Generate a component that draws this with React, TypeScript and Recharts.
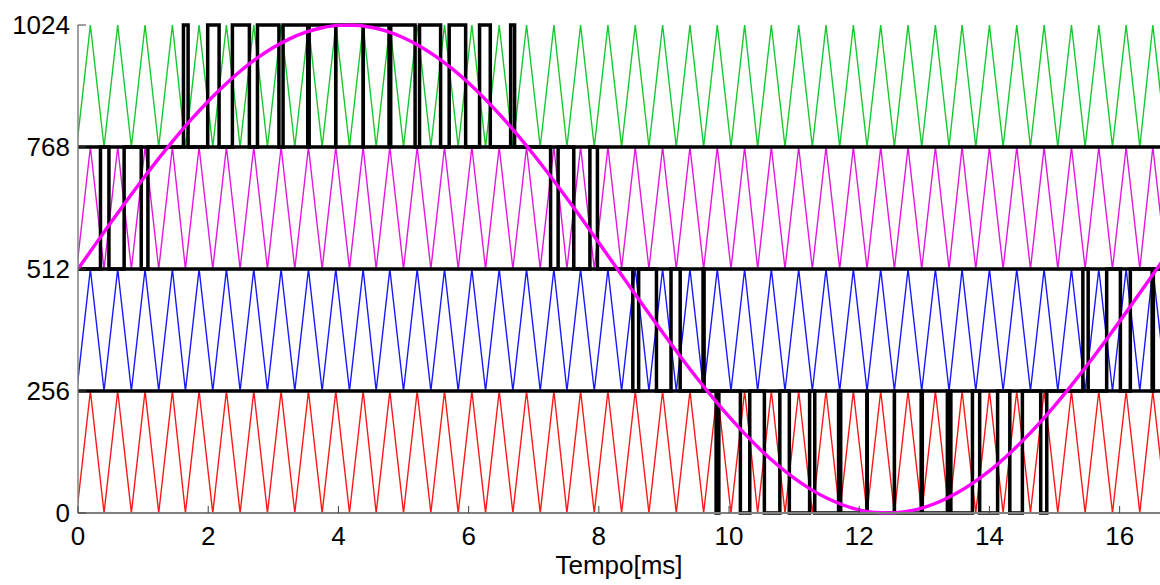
import { LineChart, Line, XAxis, YAxis } from 'recharts';

// axis ticks
const xTicks = [0, 2, 4, 6, 8, 10, 12, 14, 16];
const yTicks = [0, 256, 512, 768, 1024];

// triangular carrier vertices in ms: even index = valley, odd index = peak
const carrierTimes = [
  -0.02, 0.19, 0.4, 0.61, 0.82, 1.03, 1.24, 1.45, 1.65, 1.86,
  2.07, 2.28, 2.49, 2.7, 2.91, 3.12, 3.33, 3.54, 3.75, 3.96,
  4.17, 4.38, 4.58, 4.79, 5.0, 5.21, 5.42, 5.63, 5.84, 6.05,
  6.26, 6.47, 6.68, 6.89, 7.1, 7.31, 7.51, 7.72, 7.93, 8.14,
  8.35, 8.56, 8.77, 8.98, 9.19, 9.4, 9.61, 9.82, 10.03, 10.24,
  10.44, 10.65, 10.86, 11.07, 11.28, 11.49, 11.7, 11.91, 12.12, 12.33,
  12.54, 12.75, 12.96, 13.17, 13.38, 13.58, 13.79, 14.0, 14.21, 14.42,
  14.63, 14.84, 15.05, 15.26, 15.47, 15.68, 15.89, 16.1, 16.31, 16.51,
  16.72,
];

// one carrier per level band, top to bottom
const bandLow = [768, 512, 256, 0];
const bandHigh = [1024, 768, 512, 256];
const carrierColors = ['#18c830', '#e018e0', '#1818ff', '#ff1818'];

// sinusoidal reference (counts) sampled every 0.25 ms
const refTimes = [
  0, 0.25, 0.5, 0.75, 1, 1.25, 1.5, 1.75, 2, 2.25, 2.5, 2.75,
  3, 3.25, 3.5, 3.75, 4, 4.25, 4.5, 4.75, 5, 5.25, 5.5, 5.75,
  6, 6.25, 6.5, 6.75, 7, 7.25, 7.5, 7.75, 8, 8.25, 8.5, 8.75,
  9, 9.25, 9.5, 9.75, 10, 10.25, 10.5, 10.75, 11, 11.25, 11.5, 11.75,
  12, 12.25, 12.5, 12.75, 13, 13.25, 13.5, 13.75, 14, 14.25, 14.5, 14.75,
  15, 15.25, 15.5, 15.75, 16, 16.25, 16.5, 16.75,
];
const refValues = [
  512, 560.5, 608.5, 655.7, 701.5, 745.7, 787.8, 827.3, 864.1, 897.7, 927.9, 954.3,
  976.7, 994.9, 1008.9, 1018.3, 1023.2, 1023.6, 1019.3, 1010.5, 997.2, 979.5, 957.7, 931.8,
  902.2, 869.0, 832.6, 793.4, 751.8, 707.8, 662.1, 615.2, 567.2, 518.8, 470.3, 422.2,
  374.9, 328.8, 284.3, 242.0, 202.0, 164.9, 130.8, 100.1, 73.1, 50.2, 31.3, 16.8,
  6.7, 1.2, 0.2, 3.8, 12.0, 24.7, 41.8, 63.1, 88.3, 117.5, 150.2, 186.1,
  224.9, 266.3, 309.9, 355.3, 402.1, 450.0, 498.4, 546.9,
];

type Pt = { t: number; v: number };

const font = '"Liberation Sans", Arial, Helvetica, sans-serif';

function lerp(ts: number[], vs: number[], t: number) {
  let i = 0;
  while (i < ts.length - 2 && ts[i + 1] < t) i++;
  const f = (t - ts[i]) / (ts[i + 1] - ts[i]);
  return vs[i] + f * (vs[i + 1] - vs[i]);
}

function carrierPoints(low: number, high: number): Pt[] {
  return carrierTimes.map((t, j) => ({ t, v: j % 2 ? high : low }));
}

// comparator output for one band: high while the reference is above the carrier
function pwmPoints(low: number, high: number): Pt[] {
  const cv = carrierTimes.map((_, j) => (j % 2 ? high : low));
  const start = Math.max(carrierTimes[0], refTimes[0]);
  const end = Math.min(carrierTimes[carrierTimes.length - 1], refTimes[refTimes.length - 1]);
  const times = Array.from(new Set([...carrierTimes, ...refTimes]))
    .filter((t) => t >= start && t <= end)
    .sort((a, b) => a - b);
  const diff = (t: number) => lerp(refTimes, refValues, t) - lerp(carrierTimes, cv, t);

  let prev = diff(times[0]);
  let level = prev > 0 ? high : low;
  const pts: Pt[] = [{ t: times[0], v: level }];
  for (let i = 1; i < times.length; i++) {
    const d = diff(times[i]);
    if (d > 0 !== prev > 0) {
      const tc = times[i - 1] + ((times[i] - times[i - 1]) * prev) / (prev - d);
      pts.push({ t: tc, v: level });
      level = d > 0 ? high : low;
      pts.push({ t: tc, v: level });
    }
    prev = d;
  }
  pts.push({ t: times[times.length - 1], v: level });
  return pts;
}

const refData: Pt[] = refTimes.map((t, i) => ({ t, v: refValues[i] }));

const XTick = (props: any) => {
  const { x, payload } = props;
  return (
    <g>
      <line x1={x} x2={x} y1={513} y2={506} stroke="#404040" strokeWidth={1} />
      <text x={x} y={545} textAnchor="middle" fontSize={26} fontFamily={font} fill="#000">
        {payload.value}
      </text>
    </g>
  );
};

const YTick = (props: any) => {
  const { y, payload } = props;
  return (
    <g>
      <line x1={78} x2={86} y1={y} y2={y} stroke="#404040" strokeWidth={1} />
      <text x={70} y={y + 9} textAnchor="end" fontSize={26} fontFamily={font} fill="#000">
        {payload.value}
      </text>
    </g>
  );
};

export default function App() {
  return (
    <div style={{ position: 'absolute', left: 0, top: 0, width: 1160, height: 585, background: '#fff', overflow: 'hidden' }}>
      <LineChart width={1160} height={585} margin={{ top: 25, right: 0, bottom: 0, left: 0 }}>
        <XAxis
          dataKey="t"
          type="number"
          domain={[0, 16.62]}
          allowDataOverflow
          ticks={xTicks}
          interval={0}
          height={72}
          axisLine={{ stroke: '#808080', strokeWidth: 2 }}
          tickLine={false}
          tick={<XTick />}
          label={{ value: 'Tempo[ms]', position: 'insideBottom', offset: 11, fontSize: 26, fontFamily: font, fill: '#000' }}
        />
        <YAxis
          type="number"
          domain={[0, 1024]}
          ticks={yTicks}
          interval={0}
          width={78}
          axisLine={{ stroke: '#808080', strokeWidth: 1.5 }}
          tickLine={false}
          tick={<YTick />}
        />
        {bandLow.map((low, b) => (
          <Line
            key={`carrier-${b}`}
            data={carrierPoints(low, bandHigh[b])}
            dataKey="v"
            type="linear"
            stroke={carrierColors[b]}
            strokeWidth={1.4}
            dot={false}
            activeDot={false}
            isAnimationActive={false}
          />
        ))}
        {bandLow.map((low, b) => (
          <Line
            key={`pwm-${b}`}
            data={pwmPoints(low, bandHigh[b])}
            dataKey="v"
            type="linear"
            stroke="#000"
            strokeWidth={3.5}
            dot={false}
            activeDot={false}
            isAnimationActive={false}
          />
        ))}
        <Line
          data={refData}
          dataKey="v"
          type="monotone"
          stroke="#ff00ff"
          strokeWidth={3.4}
          dot={false}
          activeDot={false}
          isAnimationActive={false}
        />
      </LineChart>
    </div>
  );
}
